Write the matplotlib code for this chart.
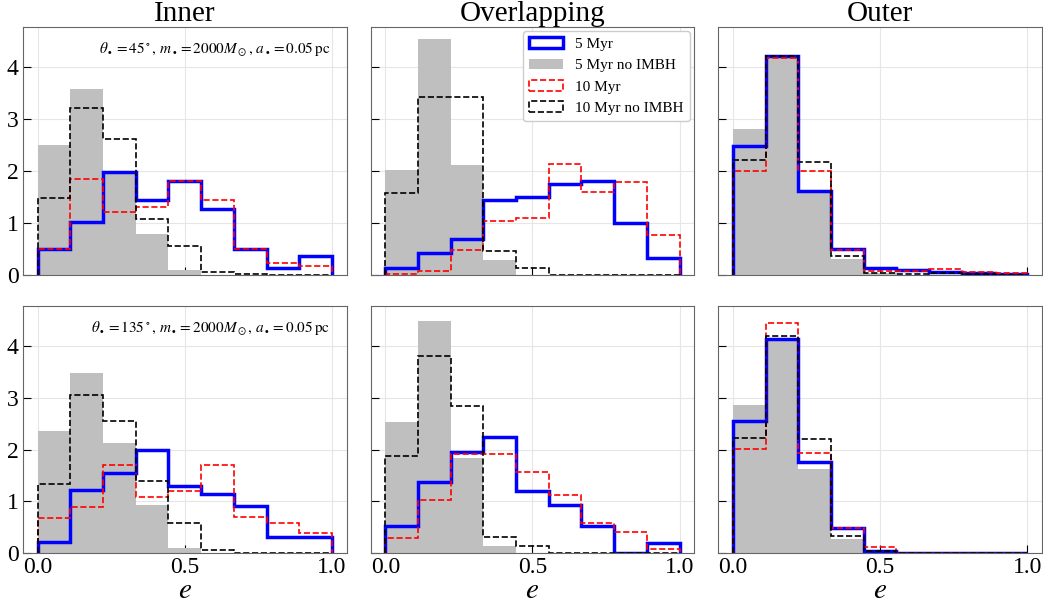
import numpy as np
import matplotlib
matplotlib.use("Agg")
import matplotlib.pyplot as plt
from matplotlib.patches import Patch

# eccentricity bins shared by every panel
edges = np.linspace(0.0, 1.0, 10)

columns = ["Inner", "Overlapping", "Outer"]
row_notes = [
    r"$\theta_\bullet=45^\circ,\, m_\bullet=2000M_\odot,\, a_\bullet=0.05\,\mathrm{pc}$",
    r"$\theta_\bullet=135^\circ,\, m_\bullet=2000M_\odot,\, a_\bullet=0.05\,\mathrm{pc}$",
]

# normalised histograms, row 0 = theta 45 deg, row 1 = theta 135 deg
myr5 = [
    [
        [0.49, 1.02, 1.98, 1.44, 1.81, 1.26, 0.49, 0.13, 0.36],
        [0.13, 0.42, 0.69, 1.44, 1.49, 1.74, 1.80, 0.99, 0.31],
        [2.47, 4.21, 1.61, 0.49, 0.13, 0.08, 0.04, 0.02, 0.01],
    ],
    [
        [0.22, 1.23, 1.54, 1.99, 1.30, 1.15, 0.91, 0.31, 0.31],
        [0.53, 1.37, 1.96, 2.24, 1.21, 0.94, 0.52, 0.00, 0.20],
        [2.56, 4.14, 1.77, 0.48, 0.04, 0.00, 0.00, 0.00, 0.00],
    ],
]
myr5_no_imbh = [
    [
        [2.49, 3.58, 1.98, 0.79, 0.09, 0.00, 0.00, 0.00, 0.00],
        [2.01, 4.54, 2.12, 0.28, 0.00, 0.00, 0.00, 0.00, 0.00],
        [2.81, 4.20, 1.61, 0.30, 0.03, 0.00, 0.00, 0.00, 0.00],
    ],
    [
        [2.35, 3.47, 2.13, 0.94, 0.10, 0.00, 0.00, 0.00, 0.00],
        [2.53, 4.49, 1.84, 0.15, 0.00, 0.00, 0.00, 0.00, 0.00],
        [2.87, 4.14, 1.62, 0.27, 0.03, 0.00, 0.00, 0.00, 0.00],
    ],
]
myr10 = [
    [
        [0.49, 1.85, 1.20, 1.31, 1.81, 1.44, 0.49, 0.23, 0.17],
        [0.01, 0.06, 0.48, 1.03, 1.10, 2.14, 1.59, 1.79, 0.76],
        [1.99, 4.17, 1.99, 0.47, 0.06, 0.06, 0.11, 0.04, 0.03],
    ],
    [
        [0.69, 0.89, 1.70, 1.09, 1.20, 1.70, 0.70, 0.59, 0.40],
        [0.29, 1.03, 1.91, 1.91, 1.57, 1.12, 0.58, 0.42, 0.08],
        [2.02, 4.44, 1.94, 0.48, 0.13, 0.00, 0.00, 0.00, 0.00],
    ],
]
myr10_no_imbh = [
    [
        [1.47, 3.22, 2.61, 1.08, 0.56, 0.04, 0.01, 0.00, 0.00],
        [1.58, 3.42, 3.42, 0.46, 0.12, 0.00, 0.00, 0.00, 0.00],
        [2.20, 4.21, 2.17, 0.36, 0.03, 0.01, 0.02, 0.01, 0.00],
    ],
    [
        [1.34, 3.05, 2.56, 1.40, 0.59, 0.06, 0.01, 0.00, 0.00],
        [1.88, 3.81, 2.84, 0.31, 0.15, 0.00, 0.00, 0.00, 0.00],
        [2.22, 4.20, 2.21, 0.34, 0.04, 0.00, 0.00, 0.00, 0.00],
    ],
]

plt.rcParams["font.family"] = ["Liberation Serif", "DejaVu Serif"]
plt.rcParams["mathtext.fontset"] = "stix"

fig, axes = plt.subplots(2, 3, figsize=(10.43, 6.08), dpi=100, sharex=True, sharey=True)
fig.subplots_adjust(left=0.022, right=0.999, top=0.956, bottom=0.09,
                    wspace=0.074, hspace=0.125)

gray_kw = dict(color="0.75")
blue_kw = dict(color="blue", lw=2.5)
red_kw = dict(color="red", lw=1.2, ls="--")
black_kw = dict(color="black", lw=1.2, ls="--")

for r in range(2):
    for c in range(3):
        ax = axes[r, c]
        ax.grid(True, color="0.9", lw=0.8)
        ax.set_axisbelow(True)
        ax.stairs(myr5_no_imbh[r][c], edges, fill=True, **gray_kw)
        ax.stairs(myr5[r][c], edges, **blue_kw)
        ax.stairs(myr10[r][c], edges, **red_kw)
        ax.stairs(myr10_no_imbh[r][c], edges, **black_kw)
        ax.set_xlim(-0.05, 1.05)
        ax.set_ylim(0, 4.78)
        ax.set_xticks([0.0, 0.5, 1.0])
        ax.set_yticks([0, 1, 2, 3, 4])
        ax.tick_params(direction="in", length=6, labelsize=17, pad=3)
        for s in ax.spines.values():
            s.set_color("0.4")
        if r == 0:
            ax.set_title(columns[c], fontsize=21, pad=3)
        if r == 1:
            ax.set_xlabel(r"$e$", fontsize=21, labelpad=0)
        if c == 0:
            ax.text(0.95, 0.91, row_notes[r], transform=ax.transAxes,
                    ha="right", va="center", fontsize=11)

# box-shaped legend keys, like step histograms
handles = [
    Patch(facecolor="none", edgecolor="blue", lw=2.5),
    Patch(facecolor="0.75", edgecolor="none"),
    Patch(facecolor="none", edgecolor="red", lw=1.2, ls="--"),
    Patch(facecolor="none", edgecolor="black", lw=1.2, ls="--"),
]
labels = ["5 Myr", "5 Myr no IMBH", "10 Myr", "10 Myr no IMBH"]
axes[0, 1].legend(handles, labels, loc="upper right", fontsize=11, framealpha=1,
                  edgecolor="0.8", handlelength=2.2, borderaxespad=0.3)

fig.savefig("out.png", dpi=100)
